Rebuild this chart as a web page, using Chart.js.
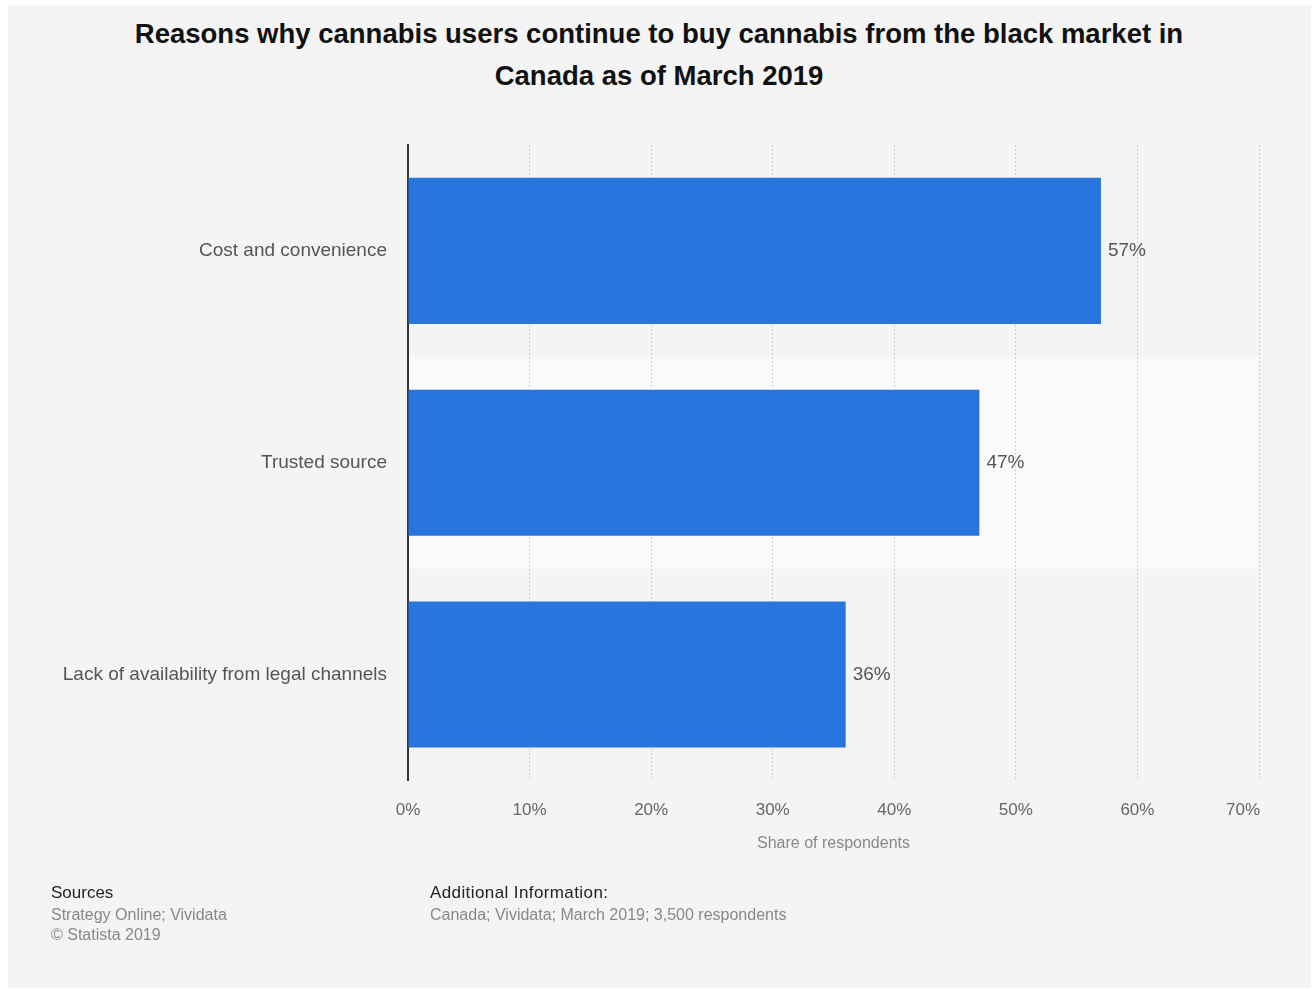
<!DOCTYPE html>
<html>
<head>
<meta charset="utf-8">
<script src="https://cdn.jsdelivr.net/npm/chart.js@4/dist/chart.umd.min.js"></script>
<style>
    html, body { margin: 0; padding: 0; background: #fff; }
    body { width: 1314px; height: 989px; position: relative; overflow: hidden;
           font-family: "Liberation Sans", Arial, sans-serif; }
    .panel { position: absolute; left: 8px; top: 5px; width: 1303px; height: 983px; background: #f4f4f4; }
    .title { position: absolute; left: 0; top: 13px; width: 1318px; text-align: center;
             font-weight: bold; font-size: 27.5px; line-height: 42px; color: #111; }
    #wrap { position: absolute; left: 0; top: 0; width: 1314px; height: 989px; }
    .foot { position: absolute; top: 882px; font-size: 17px; line-height: 22px; color: #222; }
    .foot .muted { color: #888; font-size: 16px; line-height: 20px; margin-top: 1px; }
</style>
</head>
<body>
<div class="panel"></div>
<div class="title">Reasons why cannabis users continue to buy cannabis from the black market in<br>Canada as of March 2019</div>
<div id="wrap"><canvas id="chart"></canvas></div>
<div class="foot" style="left:51px">Sources<div class="muted">Strategy Online; Vividata<br>© Statista 2019</div></div>
<div class="foot" style="left:430px"><span style="letter-spacing:0.4px">Additional Information:</span><div class="muted">Canada; Vividata; March 2019; 3,500 respondents</div></div>

<script>
// Data
const categories = ['Cost and convenience', 'Trusted source', 'Lack of availability from legal channels'];
const shares = [57, 47, 36];
const xTicks = [0, 10, 20, 30, 40, 50, 60, 70];

// Light band behind every second category (drawn before grid and axes)
const bandPlugin = {
    id: 'bands',
    beforeDraw(chart) {
        const { ctx, chartArea, scales: { x, y } } = chart;
        ctx.save();
        ctx.fillStyle = '#fafafa';
        categories.forEach((c, i) => {
            if (i % 2 !== 1) return;
            const top = y.getPixelForValue(i - 0.5);
            const bottom = y.getPixelForValue(i + 0.5);
            ctx.fillRect(chartArea.left, top, chartArea.right - chartArea.left, bottom - top);
        });
        ctx.restore();

        // keep the last tick label inside the plot, like the original
        const items = x.getLabelItems(chartArea);
        const last = items[items.length - 1];
        if (last) {
            last.options.textAlign = 'right';
            last.options.translation[0] = chartArea.right + 1;
        }
    }
};

// Value labels at the end of the bars
const valueLabels = {
    id: 'valueLabels',
    afterDatasetsDraw(chart) {
        const { ctx } = chart;
        const meta = chart.getDatasetMeta(0);
        ctx.save();
        ctx.font = '19px "Liberation Sans", Arial, sans-serif';
        ctx.fillStyle = '#555';
        ctx.textAlign = 'left';
        ctx.textBaseline = 'middle';
        meta.data.forEach((bar, i) => {
            ctx.fillText(shares[i] + '%', bar.x + 7, bar.y);
        });
        ctx.restore();
    }
};

Chart.defaults.font.family = '"Liberation Sans", Arial, sans-serif';

new Chart(document.getElementById('chart'), {
    type: 'bar',
    data: {
        labels: categories,
        datasets: [{
            data: shares,
            backgroundColor: '#2876dd',
            borderWidth: 0,
            barPercentage: 0.69,
            categoryPercentage: 1
        }]
    },
    options: {
        indexAxis: 'y',
        responsive: true,
        maintainAspectRatio: false,
        animation: false,
        layout: { padding: { top: 145, right: 55, bottom: 136, left: 0 } },
        plugins: {
            legend: { display: false },
            tooltip: { enabled: false }
        },
        scales: {
            x: {
                min: 0,
                max: 70,
                afterBuildTicks: (scale) => { scale.ticks = xTicks.map(v => ({ value: v })); },
                ticks: {
                    callback: (v) => v + '%',
                    color: '#666',
                    font: { size: 17 },
                    padding: 20
                },
                grid: {
                    color: '#cfcfcf',
                    lineWidth: 1,
                    drawTicks: false
                },
                border: { display: false, dash: [2, 2] },
                title: {
                    display: true,
                    text: 'Share of respondents',
                    color: '#888',
                    font: { size: 16 },
                    padding: { top: -7, bottom: 0 }
                }
            },
            y: {
                afterFit: (scale) => { scale.width = 408; },
                ticks: {
                    color: '#555',
                    font: { size: 19 },
                    padding: 13
                },
                grid: { display: false },
                border: { display: true, color: '#333', width: 2 }
            }
        }
    },
    plugins: [bandPlugin, valueLabels]
});
</script>
</body>
</html>
